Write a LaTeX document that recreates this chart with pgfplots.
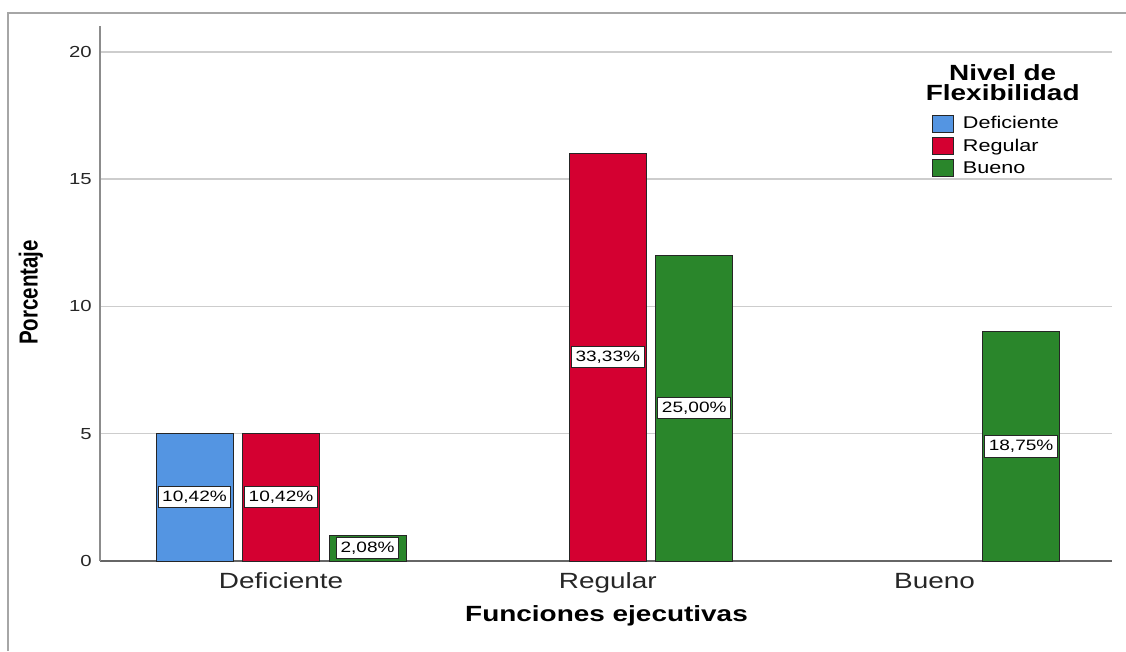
\documentclass[border=0pt]{standalone}
\usepackage{fontspec}
\setmainfont{Liberation Sans}[FakeStretch=1.27]
\newfontfamily\plainfont{Liberation Sans}
\usepackage{pgfplots}
\pgfplotsset{compat=1.18}
\usepackage{graphicx}

\definecolor{cblue}{RGB}{84,149,226}
\definecolor{cred}{RGB}{212,0,49}
\definecolor{cgreen}{RGB}{42,134,43}
\definecolor{gridc}{RGB}{205,205,205}

\pgfplotsset{
  mybar/.style={ybar, fill=#1, draw=black!85, line width=0.75pt,
    legend image code/.code={\draw[##1] (0pt,-6.4pt) rectangle (15.75pt,6.4pt);}},
}

\begin{document}
\begin{tikzpicture}
\useasboundingbox (0,0) rectangle (844.5pt,488.25pt);
\draw[color=black!35, line width=1.3pt] (6pt,0) -- (6pt,478.5pt) -- (844.5pt,478.5pt);
\begin{axis}[
  at={(75pt,67.5pt)}, anchor=south west,
  scale only axis, width=759pt, height=401.25pt,
  xmin=-0.554, xmax=2.543, ymin=0, ymax=21.02,
  axis x line*=bottom, axis y line*=left,
  axis line style={-, line width=1.5pt},
  x axis line style={color=black!60},
  y axis line style={color=black!45},
  xtick={0,1,2}, xticklabels={Deficiente,Regular,Bueno},
  ytick={0,5,10,15,20},
  ymajorgrids, grid style={gridc, line width=1.1pt},
  major tick length=0pt,
  /pgf/number format/assume math mode=true,
  xticklabel style={font=\fontsize{16.5pt}{18pt}\selectfont, yshift=-5.5pt, text=black!85},
  yticklabel style={font=\fontsize{12pt}{14pt}\selectfont, xshift=-2.75pt, text=black!85},
  xlabel={Funciones ejecutivas},
  xlabel style={font=\bfseries\fontsize{16.5pt}{18pt}\selectfont, at={(axis description cs:0.5005,-0.1028)}, anchor=center},
  ylabel={\scalebox{1}[1.27]{\plainfont\bfseries Porcentaje}},
  ylabel style={font=\fontsize{15.4pt}{17pt}\selectfont, at={(axis description cs:-0.0682,0.502)}, anchor=center},
  bar width=0.2357, bar shift=0pt,
  legend style={at={(axis description cs:0.8221,0.8336)}, anchor=north west, draw=none, fill=none, inner sep=0pt,
    font=\fontsize{12.75pt}{14pt}\selectfont, row sep=3pt, column sep=6.5pt,
    nodes={inner sep=0pt, text height=9.5pt, text depth=2.5pt}},
  legend cell align=left,
]
\addplot[mybar=cblue] coordinates {(-0.2647,5)};
\addlegendentry{Deficiente}
\addplot[mybar=cred] coordinates {(0,5) (1,16)};
\addlegendentry{Regular}
\addplot[mybar=cgreen] coordinates {(0.2647,1) (1.2647,12) (2.2647,9)};
\addlegendentry{Bueno}

\addplot[draw=none, forget plot, nodes near coords, point meta=explicit symbolic,
  every node near coord/.append style={anchor=center, fill=white, draw=black!85, line width=0.75pt,
    font=\fontsize{11.25pt}{12pt}\selectfont, inner xsep=3pt, inner ysep=2.8pt, text height=8pt, text depth=2.2pt}]
coordinates {(-0.2647,2.5) [10,42\%] (0,2.5) [10,42\%] (0.2647,0.5) [2,08\%] (1,8) [33,33\%] (1.2647,6) [25,00\%] (2.2647,4.5) [18,75\%]};

\node[font=\bfseries\fontsize{16.5pt}{15pt}\selectfont, align=center, anchor=north, inner sep=0pt]
  at (axis description cs:0.892,0.929) {Nivel de\\Flexibilidad};
\end{axis}
\end{tikzpicture}
\end{document}
